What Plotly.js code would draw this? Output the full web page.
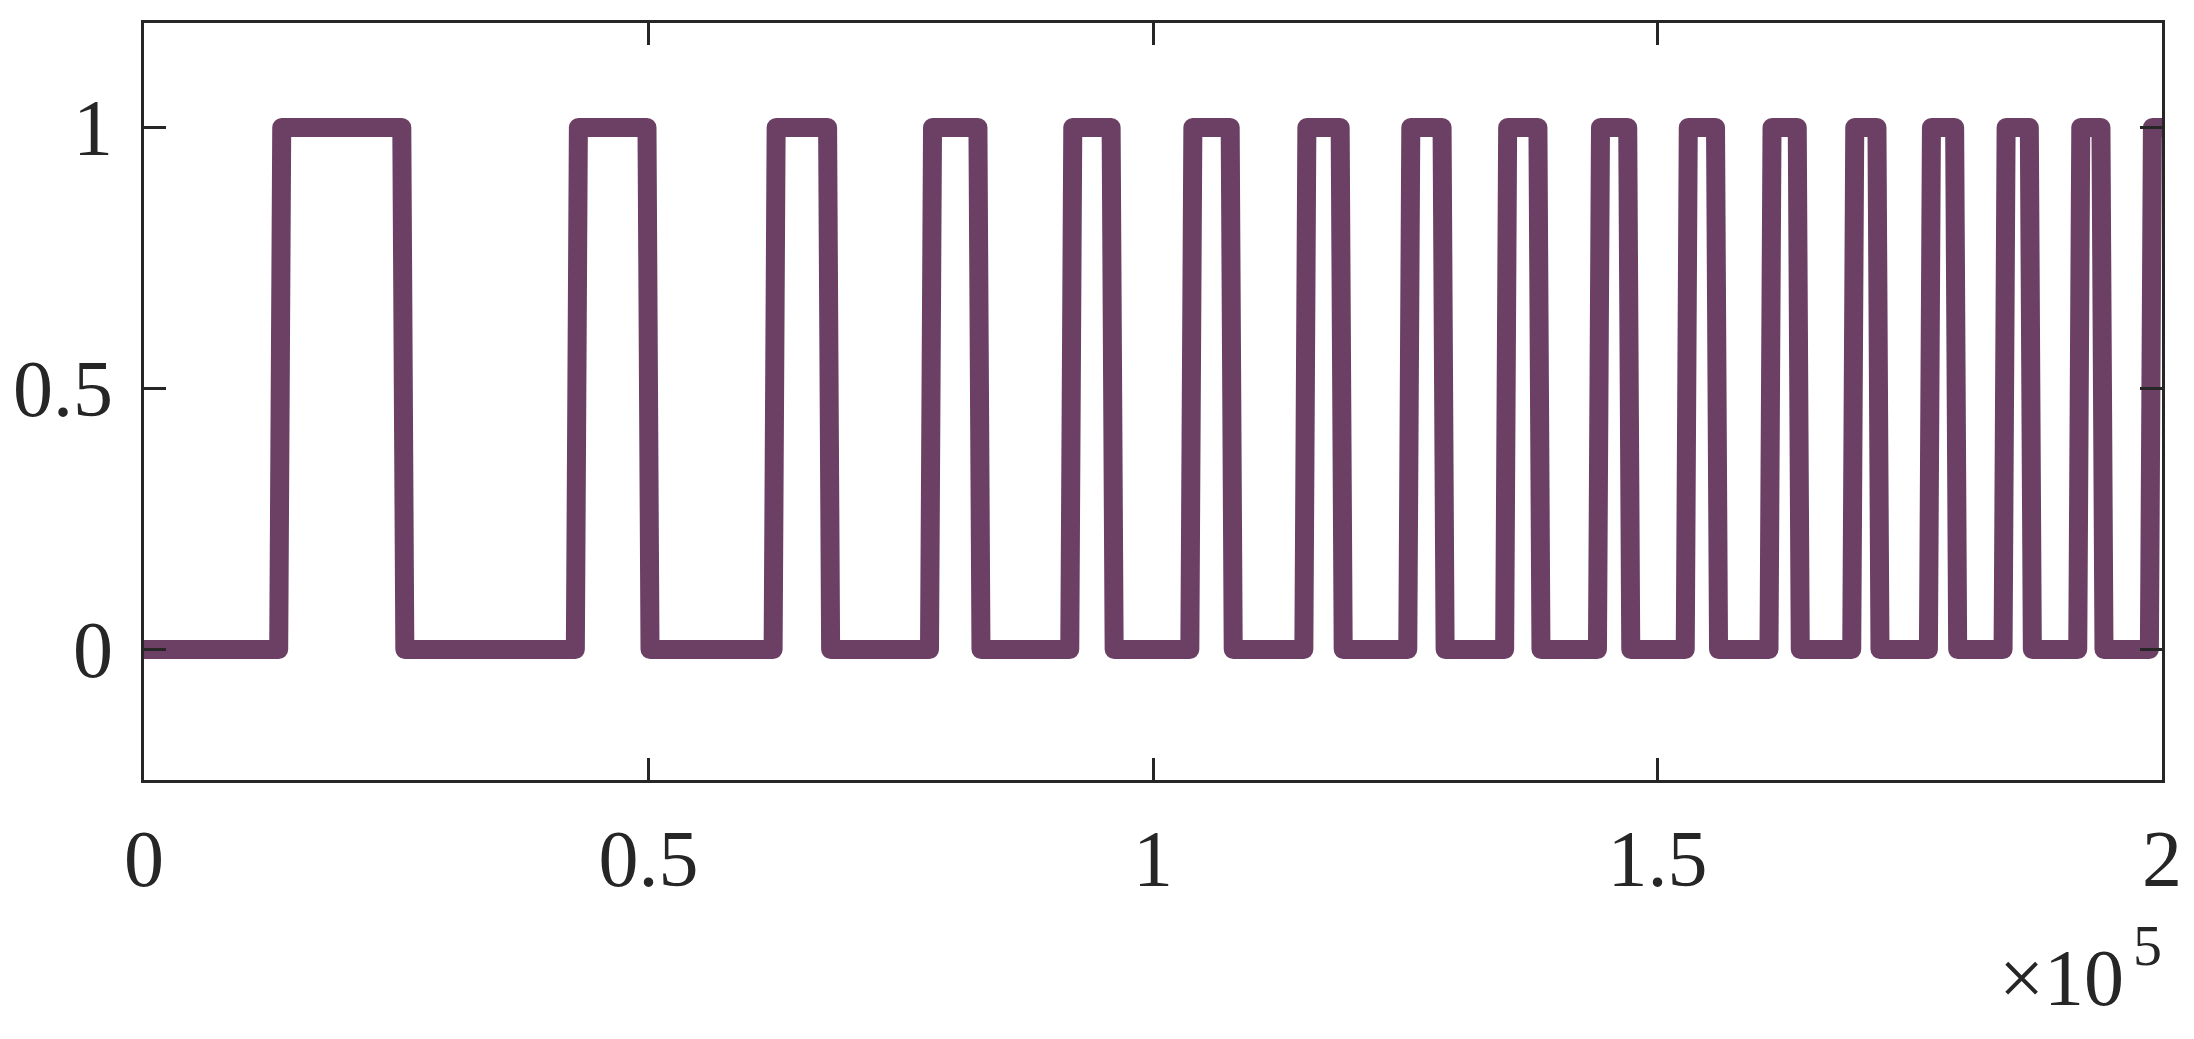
<!DOCTYPE html>
<html>
<head>
<meta charset="utf-8">
<script src="https://cdn.plot.ly/plotly-3.0.1.min.js"></script>
<style>
  html, body { margin: 0; padding: 0; background: #ffffff; }
  #chart { width: 2194px; height: 1039px; }
  .js-line { stroke-linejoin: round; stroke-linecap: butt; }
</style>
</head>
<body>
<div id="chart"></div>
<script>
// Edge positions of the square wave (sample index)
const riseX = [13500, 42900, 62500, 78000, 91900, 103800, 115100, 125400, 135000,
               144200, 152900, 161200, 169400, 177000, 184400, 191800, 198900];
const fallX = [25700, 50000, 67900, 82800, 96000, 107800, 118700, 128800,
               138300, 147200, 155900, 164000, 171900, 179600, 187000, 194100];
const lowLevel = 0;
const highLevel = 1;
const xStart = 0;
const xEnd = 200000;

// Tick labels
const xTickVals = [0, 50000, 100000, 150000, 200000];
const xTickText = ["0", "0.5", "1", "1.5", "2"];
const yTickVals = [0, 0.5, 1];
const yTickText = ["0", "0.5", "1"];
const xMultiplierText = "×10";
const xExponentText = "5";

// Build the step series from the edges (each edge spans one short sample step)
const halfStep = 150;
const edges = riseX.map(v => ({x: v, to: highLevel}))
  .concat(fallX.map(v => ({x: v, to: lowLevel})))
  .sort((a, b) => a.x - b.x);
const xs = [xStart], ys = [lowLevel];
let level = lowLevel;
edges.forEach(e => {
  xs.push(e.x - halfStep); ys.push(level);
  xs.push(e.x + halfStep); ys.push(e.to);
  level = e.to;
});
xs.push(xEnd); ys.push(level);

const axisColor = '#262626';
const fontFam = '"Liberation Serif", "Times New Roman", serif';
const fSize = 80;

const trace = {
  x: xs, y: ys,
  type: 'scatter', mode: 'lines',
  line: {color: '#6C4064', width: 19},
  hoverinfo: 'skip', showlegend: false
};

const layout = {
  width: 2194, height: 1039,
  paper_bgcolor: '#ffffff', plot_bgcolor: '#ffffff',
  margin: {l: 144, r: 32, t: 23, b: 259, pad: 0},
  font: {family: fontFam, color: axisColor, size: fSize},
  xaxis: {
    range: [xStart, xEnd],
    tickmode: 'array', tickvals: xTickVals, ticktext: xTickText,
    ticks: 'inside', ticklen: 22, tickwidth: 3, tickcolor: axisColor,
    showline: true, linewidth: 3, linecolor: axisColor, mirror: 'ticks',
    showgrid: false, zeroline: false,
    tickfont: {family: fontFam, size: fSize, color: axisColor},
    ticklabelstandoff: 7
  },
  yaxis: {
    range: [-0.25, 1.2],
    tickmode: 'array', tickvals: yTickVals, ticktext: yTickText,
    ticks: 'inside', ticklen: 22, tickwidth: 3, tickcolor: axisColor,
    showline: true, linewidth: 3, linecolor: axisColor, mirror: 'ticks',
    showgrid: false, zeroline: false,
    tickfont: {family: fontFam, size: fSize, color: axisColor},
    ticklabelstandoff: 12
  },
  annotations: [{
    text: xMultiplierText,
    xref: 'paper', yref: 'paper',
    x: 0.9824, y: -0.262, xanchor: 'right', yanchor: 'middle',
    showarrow: false,
    font: {family: fontFam, size: fSize, color: axisColor}
  }, {
    text: xExponentText,
    xref: 'paper', yref: 'paper',
    x: 0.9845, y: -0.218, xanchor: 'left', yanchor: 'middle',
    showarrow: false,
    font: {family: fontFam, size: 58, color: axisColor}
  }]
};

Plotly.newPlot('chart', [trace], layout, {displayModeBar: false, staticPlot: true});
</script>
</body>
</html>
